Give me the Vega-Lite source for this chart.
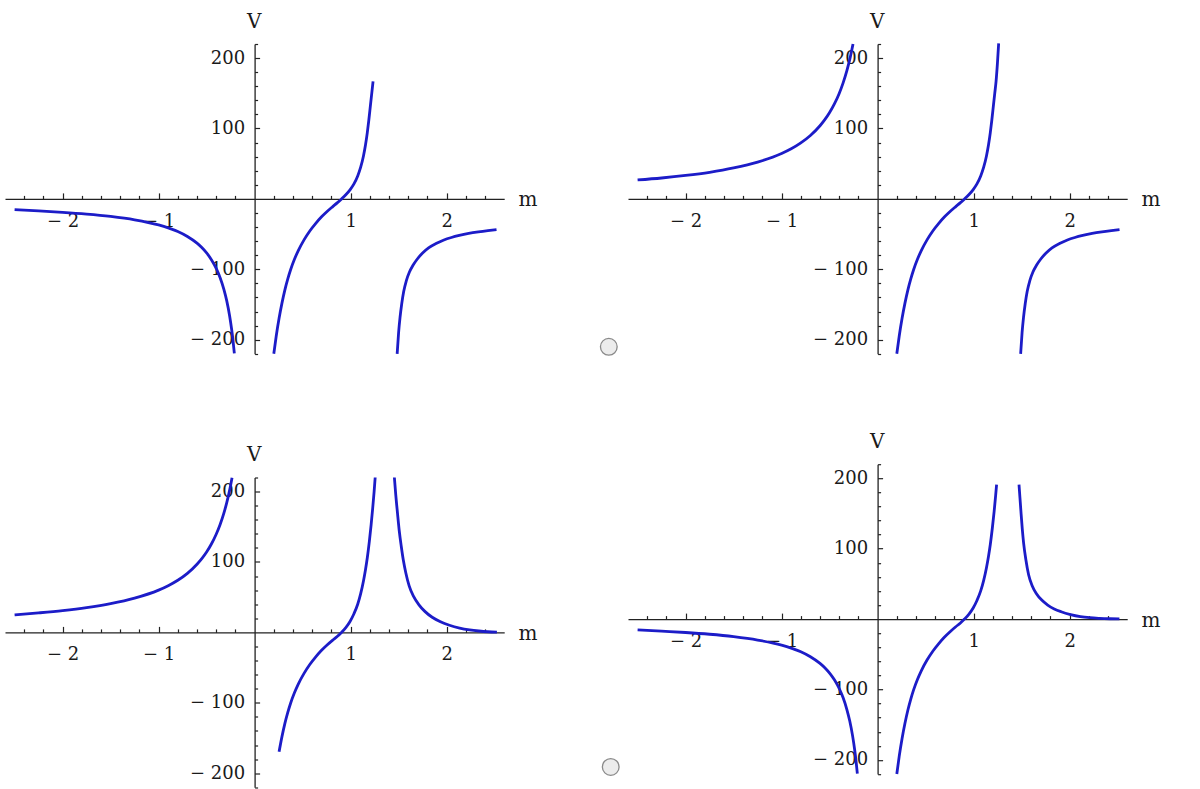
{
  "$schema": "https://vega.github.io/schema/vega-lite/v6.json",
  "padding": {"left": 5, "top": 11, "right": 5, "bottom": 5},
  "background": "white",
  "datasets": {
    "curves": [
      {"p":1,"b":"a","m":-2.5,"V":-15.2},{"p":1,"b":"a","m":-2.25,"V":-17.1},{"p":1,"b":"a","m":-2.0,"V":-19.0},{"p":1,"b":"a","m":-1.75,"V":-21.5},{"p":1,"b":"a","m":-1.5,"V":-24.9},{"p":1,"b":"a","m":-1.25,"V":-29.7},{"p":1,"b":"a","m":-1.0,"V":-37.0},{"p":1,"b":"a","m":-0.9,"V":-41.2},{"p":1,"b":"a","m":-0.8,"V":-46.4},{"p":1,"b":"a","m":-0.7,"V":-53.4},{"p":1,"b":"a","m":-0.6,"V":-62.9},{"p":1,"b":"a","m":-0.55,"V":-69.1},{"p":1,"b":"a","m":-0.5,"V":-76.7},{"p":1,"b":"a","m":-0.45,"V":-86.3},{"p":1,"b":"a","m":-0.4,"V":-98.6},{"p":1,"b":"a","m":-0.36,"V":-111.5},{"p":1,"b":"a","m":-0.32,"V":-128.4},{"p":1,"b":"a","m":-0.29,"V":-144.8},{"p":1,"b":"a","m":-0.26,"V":-166.2},{"p":1,"b":"a","m":-0.24,"V":-184.5},{"p":1,"b":"a","m":-0.225,"V":-201.1},{"p":1,"b":"a","m":-0.211,"V":-219.5},
      {"p":1,"b":"b","m":0.2,"V":-220},{"p":1,"b":"b","m":0.225,"V":-195},{"p":1,"b":"b","m":0.255,"V":-169.5},{"p":1,"b":"b","m":0.285,"V":-148},{"p":1,"b":"b","m":0.315,"V":-129.5},{"p":1,"b":"b","m":0.345,"V":-114},{"p":1,"b":"b","m":0.375,"V":-100.6},{"p":1,"b":"b","m":0.415,"V":-85.8},{"p":1,"b":"b","m":0.455,"V":-73.4},{"p":1,"b":"b","m":0.515,"V":-58.2},{"p":1,"b":"b","m":0.575,"V":-45.6},{"p":1,"b":"b","m":0.635,"V":-35.1},{"p":1,"b":"b","m":0.695,"V":-25.8},{"p":1,"b":"b","m":0.755,"V":-17.9},{"p":1,"b":"b","m":0.814,"V":-10.9},{"p":1,"b":"b","m":0.86,"V":-5.6},{"p":1,"b":"b","m":0.906,"V":0},{"p":1,"b":"b","m":0.95,"V":5.9},{"p":1,"b":"b","m":0.994,"V":12.9},{"p":1,"b":"b","m":1.035,"V":21.3},{"p":1,"b":"b","m":1.074,"V":32.6},{"p":1,"b":"b","m":1.105,"V":45},{"p":1,"b":"b","m":1.134,"V":61},{"p":1,"b":"b","m":1.155,"V":76.5},{"p":1,"b":"b","m":1.174,"V":94.2},{"p":1,"b":"b","m":1.19,"V":112},{"p":1,"b":"b","m":1.206,"V":132},{"p":1,"b":"b","m":1.22,"V":149.5},{"p":1,"b":"b","m":1.234,"V":167},
      {"p":1,"b":"c","m":1.485,"V":-220},{"p":1,"b":"c","m":1.5,"V":-190},{"p":1,"b":"c","m":1.515,"V":-168.3},{"p":1,"b":"c","m":1.533,"V":-148.5},{"p":1,"b":"c","m":1.553,"V":-131.5},{"p":1,"b":"c","m":1.58,"V":-116.4},{"p":1,"b":"c","m":1.613,"V":-103.9},{"p":1,"b":"c","m":1.65,"V":-94.3},{"p":1,"b":"c","m":1.693,"V":-85.7},{"p":1,"b":"c","m":1.75,"V":-76.9},{"p":1,"b":"c","m":1.812,"V":-69.6},{"p":1,"b":"c","m":1.89,"V":-63.4},{"p":1,"b":"c","m":1.972,"V":-58.3},{"p":1,"b":"c","m":2.05,"V":-54.8},{"p":1,"b":"c","m":2.132,"V":-51.9},{"p":1,"b":"c","m":2.23,"V":-49.1},{"p":1,"b":"c","m":2.331,"V":-46.9},{"p":1,"b":"c","m":2.43,"V":-45.1},{"p":1,"b":"c","m":2.52,"V":-43.7},

      {"p":2,"b":"a","m":-2.5,"V":26.9},{"p":2,"b":"a","m":-2.25,"V":29.7},{"p":2,"b":"a","m":-2.0,"V":33.3},{"p":2,"b":"a","m":-1.75,"V":37.8},{"p":2,"b":"a","m":-1.5,"V":43.9},{"p":2,"b":"a","m":-1.25,"V":52.2},{"p":2,"b":"a","m":-1.0,"V":64.5},{"p":2,"b":"a","m":-0.9,"V":71.2},{"p":2,"b":"a","m":-0.8,"V":79.6},{"p":2,"b":"a","m":-0.7,"V":90.1},{"p":2,"b":"a","m":-0.6,"V":103.9},{"p":2,"b":"a","m":-0.55,"V":112.5},{"p":2,"b":"a","m":-0.5,"V":122.7},{"p":2,"b":"a","m":-0.45,"V":134.9},{"p":2,"b":"a","m":-0.4,"V":149.8},{"p":2,"b":"a","m":-0.36,"V":164.4},{"p":2,"b":"a","m":-0.32,"V":182.1},{"p":2,"b":"a","m":-0.29,"V":198.1},{"p":2,"b":"a","m":-0.256,"V":220},
      {"p":2,"b":"b","m":0.2,"V":-220},{"p":2,"b":"b","m":0.225,"V":-195},{"p":2,"b":"b","m":0.255,"V":-169.5},{"p":2,"b":"b","m":0.285,"V":-148},{"p":2,"b":"b","m":0.315,"V":-129.5},{"p":2,"b":"b","m":0.345,"V":-114},{"p":2,"b":"b","m":0.375,"V":-100.6},{"p":2,"b":"b","m":0.415,"V":-85.8},{"p":2,"b":"b","m":0.455,"V":-73.4},{"p":2,"b":"b","m":0.515,"V":-58.2},{"p":2,"b":"b","m":0.575,"V":-45.6},{"p":2,"b":"b","m":0.635,"V":-35.1},{"p":2,"b":"b","m":0.695,"V":-25.8},{"p":2,"b":"b","m":0.755,"V":-17.9},{"p":2,"b":"b","m":0.814,"V":-10.9},{"p":2,"b":"b","m":0.86,"V":-5.6},{"p":2,"b":"b","m":0.906,"V":0},{"p":2,"b":"b","m":0.95,"V":5.9},{"p":2,"b":"b","m":0.994,"V":12.9},{"p":2,"b":"b","m":1.035,"V":21.3},{"p":2,"b":"b","m":1.074,"V":32.6},{"p":2,"b":"b","m":1.105,"V":45},{"p":2,"b":"b","m":1.134,"V":61},{"p":2,"b":"b","m":1.155,"V":76.5},{"p":2,"b":"b","m":1.174,"V":94.2},{"p":2,"b":"b","m":1.19,"V":112},{"p":2,"b":"b","m":1.206,"V":132},{"p":2,"b":"b","m":1.22,"V":149.5},{"p":2,"b":"b","m":1.234,"V":167},{"p":2,"b":"b","m":1.248,"V":192},{"p":2,"b":"b","m":1.261,"V":221},
      {"p":2,"b":"c","m":1.49,"V":-220},{"p":2,"b":"c","m":1.505,"V":-190},{"p":2,"b":"c","m":1.52,"V":-168.3},{"p":2,"b":"c","m":1.538,"V":-148.5},{"p":2,"b":"c","m":1.558,"V":-131.5},{"p":2,"b":"c","m":1.585,"V":-116.4},{"p":2,"b":"c","m":1.618,"V":-103.9},{"p":2,"b":"c","m":1.655,"V":-94.3},{"p":2,"b":"c","m":1.698,"V":-85.7},{"p":2,"b":"c","m":1.755,"V":-76.9},{"p":2,"b":"c","m":1.817,"V":-69.6},{"p":2,"b":"c","m":1.895,"V":-63.4},{"p":2,"b":"c","m":1.977,"V":-58.3},{"p":2,"b":"c","m":2.055,"V":-54.8},{"p":2,"b":"c","m":2.137,"V":-51.9},{"p":2,"b":"c","m":2.235,"V":-49.1},{"p":2,"b":"c","m":2.336,"V":-46.9},{"p":2,"b":"c","m":2.435,"V":-45.1},{"p":2,"b":"c","m":2.52,"V":-43.7},

      {"p":3,"b":"a","m":-2.5,"V":24.8},{"p":3,"b":"a","m":-2.25,"V":27.7},{"p":3,"b":"a","m":-2.0,"V":31.0},{"p":3,"b":"a","m":-1.75,"V":35.2},{"p":3,"b":"a","m":-1.5,"V":40.8},{"p":3,"b":"a","m":-1.25,"V":48.6},{"p":3,"b":"a","m":-1.0,"V":60.0},{"p":3,"b":"a","m":-0.9,"V":66.3},{"p":3,"b":"a","m":-0.8,"V":74.0},{"p":3,"b":"a","m":-0.7,"V":83.8},{"p":3,"b":"a","m":-0.6,"V":96.7},{"p":3,"b":"a","m":-0.55,"V":104.7},{"p":3,"b":"a","m":-0.5,"V":114.1},{"p":3,"b":"a","m":-0.45,"V":125.5},{"p":3,"b":"a","m":-0.4,"V":139.4},{"p":3,"b":"a","m":-0.36,"V":152.9},{"p":3,"b":"a","m":-0.32,"V":169.4},{"p":3,"b":"a","m":-0.29,"V":184.3},{"p":3,"b":"a","m":-0.26,"V":202.1},{"p":3,"b":"a","m":-0.235,"V":219.8},
      {"p":3,"b":"b","m":0.255,"V":-169.5},{"p":3,"b":"b","m":0.285,"V":-148},{"p":3,"b":"b","m":0.315,"V":-129.5},{"p":3,"b":"b","m":0.345,"V":-114},{"p":3,"b":"b","m":0.375,"V":-100.6},{"p":3,"b":"b","m":0.415,"V":-85.8},{"p":3,"b":"b","m":0.455,"V":-73.4},{"p":3,"b":"b","m":0.515,"V":-58.2},{"p":3,"b":"b","m":0.575,"V":-45.6},{"p":3,"b":"b","m":0.635,"V":-35.1},{"p":3,"b":"b","m":0.695,"V":-25.8},{"p":3,"b":"b","m":0.755,"V":-17.9},{"p":3,"b":"b","m":0.814,"V":-10.9},{"p":3,"b":"b","m":0.86,"V":-5.8},{"p":3,"b":"b","m":0.905,"V":0},{"p":3,"b":"b","m":0.95,"V":6.8},{"p":3,"b":"b","m":0.994,"V":15.5},{"p":3,"b":"b","m":1.035,"V":26.5},{"p":3,"b":"b","m":1.074,"V":40},{"p":3,"b":"b","m":1.105,"V":55},{"p":3,"b":"b","m":1.134,"V":73},{"p":3,"b":"b","m":1.155,"V":89},{"p":3,"b":"b","m":1.174,"V":106},{"p":3,"b":"b","m":1.195,"V":129},{"p":3,"b":"b","m":1.214,"V":153},{"p":3,"b":"b","m":1.23,"V":176},{"p":3,"b":"b","m":1.245,"V":200},{"p":3,"b":"b","m":1.256,"V":220},
      {"p":3,"b":"c","m":1.456,"V":220},{"p":3,"b":"c","m":1.47,"V":196},{"p":3,"b":"c","m":1.488,"V":170},{"p":3,"b":"c","m":1.507,"V":144},{"p":3,"b":"c","m":1.528,"V":122},{"p":3,"b":"c","m":1.55,"V":102},{"p":3,"b":"c","m":1.576,"V":84},{"p":3,"b":"c","m":1.61,"V":66},{"p":3,"b":"c","m":1.656,"V":51},{"p":3,"b":"c","m":1.71,"V":39.5},{"p":3,"b":"c","m":1.776,"V":29.5},{"p":3,"b":"c","m":1.85,"V":21.5},{"p":3,"b":"c","m":1.936,"V":15.2},{"p":3,"b":"c","m":2.03,"V":10.2},{"p":3,"b":"c","m":2.136,"V":6.2},{"p":3,"b":"c","m":2.24,"V":3.6},{"p":3,"b":"c","m":2.336,"V":2.0},{"p":3,"b":"c","m":2.43,"V":0.9},{"p":3,"b":"c","m":2.524,"V":0.3},

      {"p":4,"b":"a","m":-2.5,"V":-15.2},{"p":4,"b":"a","m":-2.25,"V":-17.1},{"p":4,"b":"a","m":-2.0,"V":-19.0},{"p":4,"b":"a","m":-1.75,"V":-21.5},{"p":4,"b":"a","m":-1.5,"V":-24.9},{"p":4,"b":"a","m":-1.25,"V":-29.7},{"p":4,"b":"a","m":-1.0,"V":-37.0},{"p":4,"b":"a","m":-0.9,"V":-41.2},{"p":4,"b":"a","m":-0.8,"V":-46.4},{"p":4,"b":"a","m":-0.7,"V":-53.4},{"p":4,"b":"a","m":-0.6,"V":-62.9},{"p":4,"b":"a","m":-0.55,"V":-69.1},{"p":4,"b":"a","m":-0.5,"V":-76.7},{"p":4,"b":"a","m":-0.45,"V":-86.3},{"p":4,"b":"a","m":-0.4,"V":-98.6},{"p":4,"b":"a","m":-0.36,"V":-111.5},{"p":4,"b":"a","m":-0.32,"V":-128.4},{"p":4,"b":"a","m":-0.29,"V":-144.8},{"p":4,"b":"a","m":-0.26,"V":-166.2},{"p":4,"b":"a","m":-0.24,"V":-184.5},{"p":4,"b":"a","m":-0.225,"V":-201.1},{"p":4,"b":"a","m":-0.211,"V":-219.5},
      {"p":4,"b":"b","m":0.2,"V":-220},{"p":4,"b":"b","m":0.225,"V":-195},{"p":4,"b":"b","m":0.255,"V":-169.5},{"p":4,"b":"b","m":0.285,"V":-148},{"p":4,"b":"b","m":0.315,"V":-129.5},{"p":4,"b":"b","m":0.345,"V":-114},{"p":4,"b":"b","m":0.375,"V":-100.6},{"p":4,"b":"b","m":0.415,"V":-85.8},{"p":4,"b":"b","m":0.455,"V":-73.4},{"p":4,"b":"b","m":0.515,"V":-58.2},{"p":4,"b":"b","m":0.575,"V":-45.6},{"p":4,"b":"b","m":0.635,"V":-35.1},{"p":4,"b":"b","m":0.695,"V":-25.8},{"p":4,"b":"b","m":0.755,"V":-17.9},{"p":4,"b":"b","m":0.814,"V":-10.9},{"p":4,"b":"b","m":0.86,"V":-5.8},{"p":4,"b":"b","m":0.905,"V":0},{"p":4,"b":"b","m":0.95,"V":6.8},{"p":4,"b":"b","m":0.994,"V":15.5},{"p":4,"b":"b","m":1.035,"V":26.5},{"p":4,"b":"b","m":1.074,"V":40},{"p":4,"b":"b","m":1.105,"V":55},{"p":4,"b":"b","m":1.134,"V":73},{"p":4,"b":"b","m":1.155,"V":89},{"p":4,"b":"b","m":1.174,"V":106},{"p":4,"b":"b","m":1.195,"V":129},{"p":4,"b":"b","m":1.214,"V":153},{"p":4,"b":"b","m":1.23,"V":176},{"p":4,"b":"b","m":1.2395,"V":191},
      {"p":4,"b":"c","m":1.473,"V":191},{"p":4,"b":"c","m":1.483,"V":172},{"p":4,"b":"c","m":1.493,"V":153},{"p":4,"b":"c","m":1.507,"V":128},{"p":4,"b":"c","m":1.521,"V":108},{"p":4,"b":"c","m":1.545,"V":84},{"p":4,"b":"c","m":1.573,"V":63},{"p":4,"b":"c","m":1.61,"V":47.5},{"p":4,"b":"c","m":1.653,"V":36.5},{"p":4,"b":"c","m":1.71,"V":27},{"p":4,"b":"c","m":1.772,"V":20},{"p":4,"b":"c","m":1.84,"V":14.5},{"p":4,"b":"c","m":1.912,"V":10.5},{"p":4,"b":"c","m":2.01,"V":6.5},{"p":4,"b":"c","m":2.112,"V":3.6},{"p":4,"b":"c","m":2.21,"V":2.0},{"p":4,"b":"c","m":2.311,"V":1.1},{"p":4,"b":"c","m":2.42,"V":0.5},{"p":4,"b":"c","m":2.519,"V":0.2}
    ],
    "radio": [
      {"p":2,"m":-2.8,"V":-210},
      {"p":4,"m":-2.78,"V":-210}
    ]
  },
  "hconcat": [
    {
      "vconcat": [
        {
          "width": 499.2, "height": 309.8,
          "layer": [
            {
              "data": {"name": "curves"},
              "transform": [{"filter": "datum.p == 1"}],
              "mark": {"type": "line", "color": "#1c1cc8", "strokeWidth": 2.8, "interpolate": "monotone"},
              "encoding": {
                "x": {"field": "m", "type": "quantitative", "scale": {"domain": [-2.6, 2.6], "nice": false, "zero": false},
                  "axis": {"orient": "top", "values": [-2, -1, 1, 2], "offset": -154.9, "tickSize": 6, "labelPadding": -19.5, "labelBaseline": "top", "labelExpr": "datum.value < 0 ? '− ' + format(-datum.value, 'd') : format(datum.value, 'd')", "title": "m", "titleX": 513, "titleY": 7, "titleAlign": "left", "titleBaseline": "alphabetic", "titleAngle": 0}},
                "y": {"field": "V", "type": "quantitative", "scale": {"domain": [-220, 220], "nice": false, "zero": false},
                  "axis": {"orient": "right", "values": [-200, -100, 100, 200], "offset": -249.6, "tickSize": 5, "labelPadding": -15, "labelAlign": "right", "labelBaseline": "middle", "labelExpr": "datum.value < 0 ? '− ' + format(-datum.value, 'd') : format(datum.value, 'd')", "title": "V", "titleX": -1, "titleY": -17, "titleAlign": "center", "titleBaseline": "alphabetic", "titleAngle": 0}},
                "detail": {"field": "b"}
              }
            },
            {
              "data": {"name": "curves"},
              "transform": [{"filter": "datum.p == 1"}],
              "mark": {"type": "point", "opacity": 0},
              "encoding": {
                "x": {"field": "m", "type": "quantitative", "scale": {"domain": [-2.6, 2.6], "nice": false, "zero": false},
                  "axis": {"orient": "top", "values": [-2.4, -2.2, -1.8, -1.6, -1.4, -1.2, -0.8, -0.6, -0.4, -0.2, 0.2, 0.4, 0.6, 0.8, 1.2, 1.4, 1.6, 1.8, 2.2, 2.4], "offset": -154.9, "tickSize": 3.5, "labels": false, "domain": false, "title": null}},
                "y": {"field": "V", "type": "quantitative", "scale": {"domain": [-220, 220], "nice": false, "zero": false},
                  "axis": {"orient": "right", "values": [-220, -180, -160, -140, -120, -80, -60, -40, -20, 20, 40, 60, 80, 120, 140, 160, 180, 220], "offset": -249.6, "tickSize": 3, "labels": false, "domain": false, "title": null}}
              }
            }
          ],
          "resolve": {"axis": {"x": "independent", "y": "independent"}}
        },
        {
          "width": 499.2, "height": 309.8,
          "layer": [
            {
              "data": {"name": "curves"},
              "transform": [{"filter": "datum.p == 3"}],
              "mark": {"type": "line", "color": "#1c1cc8", "strokeWidth": 2.8, "interpolate": "monotone"},
              "encoding": {
                "x": {"field": "m", "type": "quantitative", "scale": {"domain": [-2.6, 2.6], "nice": false, "zero": false},
                  "axis": {"orient": "top", "values": [-2, -1, 1, 2], "offset": -154.9, "tickSize": 6, "labelPadding": -19.5, "labelBaseline": "top", "labelExpr": "datum.value < 0 ? '− ' + format(-datum.value, 'd') : format(datum.value, 'd')", "title": "m", "titleX": 513, "titleY": 7, "titleAlign": "left", "titleBaseline": "alphabetic", "titleAngle": 0}},
                "y": {"field": "V", "type": "quantitative", "scale": {"domain": [-220, 220], "nice": false, "zero": false},
                  "axis": {"orient": "right", "values": [-200, -100, 100, 200], "offset": -249.6, "tickSize": 5, "labelPadding": -15, "labelAlign": "right", "labelBaseline": "middle", "labelExpr": "datum.value < 0 ? '− ' + format(-datum.value, 'd') : format(datum.value, 'd')", "title": "V", "titleX": -1, "titleY": -17, "titleAlign": "center", "titleBaseline": "alphabetic", "titleAngle": 0}},
                "detail": {"field": "b"}
              }
            },
            {
              "data": {"name": "curves"},
              "transform": [{"filter": "datum.p == 3"}],
              "mark": {"type": "point", "opacity": 0},
              "encoding": {
                "x": {"field": "m", "type": "quantitative", "scale": {"domain": [-2.6, 2.6], "nice": false, "zero": false},
                  "axis": {"orient": "top", "values": [-2.4, -2.2, -1.8, -1.6, -1.4, -1.2, -0.8, -0.6, -0.4, -0.2, 0.2, 0.4, 0.6, 0.8, 1.2, 1.4, 1.6, 1.8, 2.2, 2.4], "offset": -154.9, "tickSize": 3.5, "labels": false, "domain": false, "title": null}},
                "y": {"field": "V", "type": "quantitative", "scale": {"domain": [-220, 220], "nice": false, "zero": false},
                  "axis": {"orient": "right", "values": [-220, -180, -160, -140, -120, -80, -60, -40, -20, 20, 40, 60, 80, 120, 140, 160, 180, 220], "offset": -249.6, "tickSize": 3, "labels": false, "domain": false, "title": null}}
              }
            }
          ],
          "resolve": {"axis": {"x": "independent", "y": "independent"}}
        }
      ],
      "spacing": 123.5,
      "bounds": "flush"
    },
    {
      "vconcat": [
        {
          "width": 499.2, "height": 309.8,
          "layer": [
            {
              "data": {"name": "curves"},
              "transform": [{"filter": "datum.p == 2"}],
              "mark": {"type": "line", "color": "#1c1cc8", "strokeWidth": 2.8, "interpolate": "monotone"},
              "encoding": {
                "x": {"field": "m", "type": "quantitative", "scale": {"domain": [-2.6, 2.6], "nice": false, "zero": false},
                  "axis": {"orient": "top", "values": [-2, -1, 1, 2], "offset": -154.9, "tickSize": 6, "labelPadding": -19.5, "labelBaseline": "top", "labelExpr": "datum.value < 0 ? '− ' + format(-datum.value, 'd') : format(datum.value, 'd')", "title": "m", "titleX": 513, "titleY": 7, "titleAlign": "left", "titleBaseline": "alphabetic", "titleAngle": 0}},
                "y": {"field": "V", "type": "quantitative", "scale": {"domain": [-220, 220], "nice": false, "zero": false},
                  "axis": {"orient": "right", "values": [-200, -100, 100, 200], "offset": -249.6, "tickSize": 5, "labelPadding": -15, "labelAlign": "right", "labelBaseline": "middle", "labelExpr": "datum.value < 0 ? '− ' + format(-datum.value, 'd') : format(datum.value, 'd')", "title": "V", "titleX": -1, "titleY": -17, "titleAlign": "center", "titleBaseline": "alphabetic", "titleAngle": 0}},
                "detail": {"field": "b"}
              }
            },
            {
              "data": {"name": "curves"},
              "transform": [{"filter": "datum.p == 2"}],
              "mark": {"type": "point", "opacity": 0},
              "encoding": {
                "x": {"field": "m", "type": "quantitative", "scale": {"domain": [-2.6, 2.6], "nice": false, "zero": false},
                  "axis": {"orient": "top", "values": [-2.4, -2.2, -1.8, -1.6, -1.4, -1.2, -0.8, -0.6, -0.4, -0.2, 0.2, 0.4, 0.6, 0.8, 1.2, 1.4, 1.6, 1.8, 2.2, 2.4], "offset": -154.9, "tickSize": 3.5, "labels": false, "domain": false, "title": null}},
                "y": {"field": "V", "type": "quantitative", "scale": {"domain": [-220, 220], "nice": false, "zero": false},
                  "axis": {"orient": "right", "values": [-220, -180, -160, -140, -120, -80, -60, -40, -20, 20, 40, 60, 80, 120, 140, 160, 180, 220], "offset": -249.6, "tickSize": 3, "labels": false, "domain": false, "title": null}}
              }
            },
            {
              "data": {"name": "radio"},
              "transform": [{"filter": "datum.p == 2"}],
              "mark": {"type": "point", "shape": "circle", "filled": true, "size": 280, "fill": "#ececec", "stroke": "#8a8a8a", "strokeWidth": 1.3, "opacity": 1},
              "encoding": {
                "x": {"field": "m", "type": "quantitative", "axis": null},
                "y": {"field": "V", "type": "quantitative", "axis": null}
              }
            }
          ],
          "resolve": {"axis": {"x": "independent", "y": "independent"}}
        },
        {
          "width": 499.2, "height": 309.8,
          "layer": [
            {
              "data": {"name": "curves"},
              "transform": [{"filter": "datum.p == 4"}],
              "mark": {"type": "line", "color": "#1c1cc8", "strokeWidth": 2.8, "interpolate": "monotone"},
              "encoding": {
                "x": {"field": "m", "type": "quantitative", "scale": {"domain": [-2.6, 2.6], "nice": false, "zero": false},
                  "axis": {"orient": "top", "values": [-2, -1, 1, 2], "offset": -154.9, "tickSize": 6, "labelPadding": -19.5, "labelBaseline": "top", "labelExpr": "datum.value < 0 ? '− ' + format(-datum.value, 'd') : format(datum.value, 'd')", "title": "m", "titleX": 513, "titleY": 7, "titleAlign": "left", "titleBaseline": "alphabetic", "titleAngle": 0}},
                "y": {"field": "V", "type": "quantitative", "scale": {"domain": [-220, 220], "nice": false, "zero": false},
                  "axis": {"orient": "right", "values": [-200, -100, 100, 200], "offset": -249.6, "tickSize": 5, "labelPadding": -15, "labelAlign": "right", "labelBaseline": "middle", "labelExpr": "datum.value < 0 ? '− ' + format(-datum.value, 'd') : format(datum.value, 'd')", "title": "V", "titleX": -1, "titleY": -17, "titleAlign": "center", "titleBaseline": "alphabetic", "titleAngle": 0}},
                "detail": {"field": "b"}
              }
            },
            {
              "data": {"name": "curves"},
              "transform": [{"filter": "datum.p == 4"}],
              "mark": {"type": "point", "opacity": 0},
              "encoding": {
                "x": {"field": "m", "type": "quantitative", "scale": {"domain": [-2.6, 2.6], "nice": false, "zero": false},
                  "axis": {"orient": "top", "values": [-2.4, -2.2, -1.8, -1.6, -1.4, -1.2, -0.8, -0.6, -0.4, -0.2, 0.2, 0.4, 0.6, 0.8, 1.2, 1.4, 1.6, 1.8, 2.2, 2.4], "offset": -154.9, "tickSize": 3.5, "labels": false, "domain": false, "title": null}},
                "y": {"field": "V", "type": "quantitative", "scale": {"domain": [-220, 220], "nice": false, "zero": false},
                  "axis": {"orient": "right", "values": [-220, -180, -160, -140, -120, -80, -60, -40, -20, 20, 40, 60, 80, 120, 140, 160, 180, 220], "offset": -249.6, "tickSize": 3, "labels": false, "domain": false, "title": null}}
              }
            },
            {
              "data": {"name": "radio"},
              "transform": [{"filter": "datum.p == 4"}],
              "mark": {"type": "point", "shape": "circle", "filled": true, "size": 280, "fill": "#ececec", "stroke": "#8a8a8a", "strokeWidth": 1.3, "opacity": 1},
              "encoding": {
                "x": {"field": "m", "type": "quantitative", "axis": null},
                "y": {"field": "V", "type": "quantitative", "axis": null}
              }
            }
          ],
          "resolve": {"axis": {"x": "independent", "y": "independent"}}
        }
      ],
      "spacing": 110.2,
      "bounds": "flush"
    }
  ],
  "spacing": 60,
  "config": {
    "view": {"stroke": null},
    "axis": {
      "grid": false,
      "domainColor": "#222222",
      "domainWidth": 1.3,
      "tickColor": "#222222",
      "tickWidth": 1.2,
      "labelColor": "#1a1a1a",
      "titleColor": "#1a1a1a",
      "labelFont": "DejaVu Serif",
      "titleFont": "DejaVu Serif",
      "labelFontSize": 18,
      "titleFontSize": 20,
      "titleFontWeight": "normal",
      "labelOverlap": false,
      "labelFlush": false
    }
  }
}
